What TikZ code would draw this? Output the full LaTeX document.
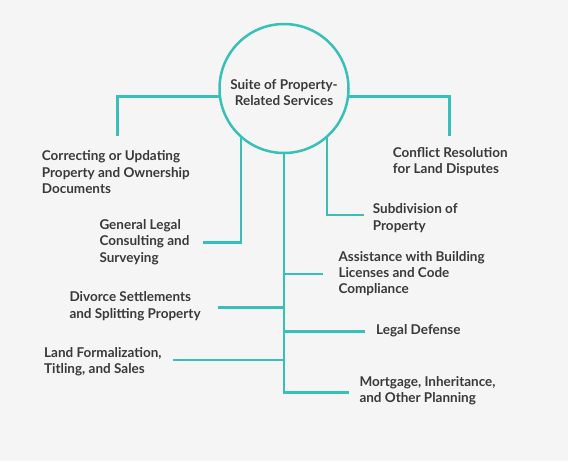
\documentclass[tikz,border=0pt]{standalone}
\usepackage{fontspec}
\setmainfont{Lato}
\usetikzlibrary{positioning}
\definecolor{svcteal}{HTML}{38BFB7}
\definecolor{svcbg}{HTML}{F5F5F5}
\definecolor{svctext}{HTML}{3A3A3A}
\newcommand\svcfont{\bfseries\fontsize{13.5}{16.3}\selectfont}
\tikzset{
  link/.style={draw=svcteal, line width=2.5pt},
  hub/.style={circle, draw=svcteal, line width=2.5pt, fill=svcbg, minimum size=129pt, inner sep=0pt, align=center, font=\svcfont, text=svctext},
  service/.style={anchor=west, align=left, inner sep=0pt, font=\svcfont, text=svctext},
}

\begin{document}
\begin{tikzpicture}[x=1pt, y=-1pt]
  \fill[svcbg] (0,0) rectangle (568,461);
  \useasboundingbox (0,0) rectangle (568,461);

  \node[hub] (hub) at (284,88.5) {\rule{0pt}{18pt}Suite of Property-\\Related Services};

  % services, left side
  \node[service] (correct) at (41.7,172.3) {Correcting or Updating\\Property and Ownership\\Documents};
  \node[service] (general) at (99.3,242) {General Legal\\Consulting and\\Surveying};
  \node[service] (divorce) at (69.3,306.2) {Divorce Settlements\\and Splitting Property};
  \node[service] (land) at (44,362) {Land Formalization,\\Titling, and Sales};

  % services, right side
  \node[service] (conflict) at (392.7,161.3) {Conflict Resolution\\for Land Disputes};
  \node[service] (subdiv) at (372.7,218) {Subdivision of\\Property};
  \node[service] (assist) at (338.3,273.7) {Assistance with Building\\Licenses and Code\\Compliance};
  \node[service] (defense) at (376,331) {Legal Defense};
  \node[service] (mortgage) at (359.3,390.7) {Mortgage, Inheritance,\\and Other Planning};

  % line ends
  \coordinate (c-correct) at (117.7,136);
  \coordinate (c-conflict) at (449.3,136);
  \coordinate (c-general) at (203.3,242.7);
  \coordinate (c-subdiv) at (364.3,215);
  \coordinate (c-mortgage) at (349,392.5);
  \coordinate (c-assist) at (323.3,274);
  \coordinate (c-defense) at (365,331.7);
  \coordinate (c-divorce) at (218.3,307.3);
  \coordinate (c-land) at (173.3,360);

  \draw[link] (hub.187) -| (c-correct);
  \draw[link] (hub.353) -| (c-conflict);
  \draw[link] (hub.229) |- (c-general);
  \draw[link] (hub.311) |- (c-subdiv);
  \draw[link] (hub.south) |- (c-mortgage);
  \draw[link] (c-assist -| hub.south) -- (c-assist);
  \draw[link] (c-defense -| hub.south) -- (c-defense);
  \draw[link] (c-divorce) -- (c-divorce -| hub.south);
  \draw[link] (c-land) -- (c-land -| hub.south);
\end{tikzpicture}
\end{document}
